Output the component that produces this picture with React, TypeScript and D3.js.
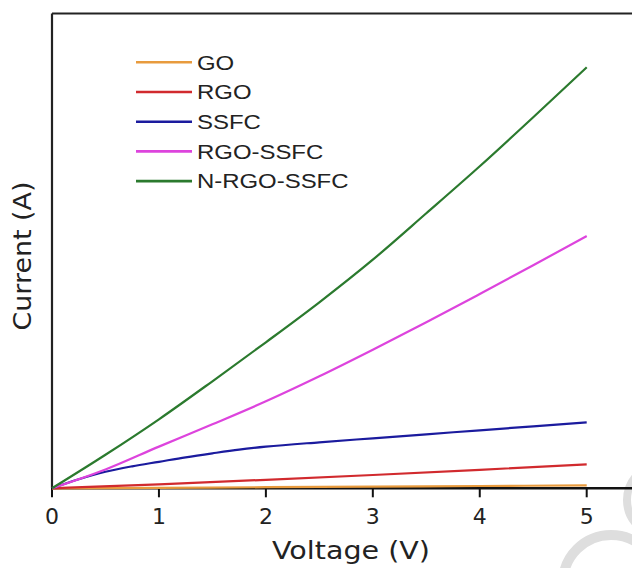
import React from "react";
import * as d3 from "d3";

// Voltage ticks
const xTicks = [0, 1, 2, 3, 4, 5];

// Series (relative current, 100 = top of frame)
const goV = [0, 1, 2, 3, 4, 5];
const goI = [0, 0.105, 0.23, 0.36, 0.48, 0.63];

const rgoV = [0, 1, 2, 3, 4, 5];
const rgoI = [0, 0.84, 1.79, 2.8, 3.9, 5.05];

const ssfcV = [0, 0.25, 0.5, 0.75, 1, 1.25, 1.5, 1.75, 2, 2.5, 3, 3.5, 4, 4.5, 5];
const ssfcI = [0, 1.9, 3.48, 4.63, 5.58, 6.53, 7.37, 8.15, 8.76, 9.69, 10.53, 11.37, 12.22, 13.06, 13.9];

const rgoSsfcV = [0, 0.5, 1, 1.5, 2, 2.5, 3, 3.5, 4, 4.5, 5];
const rgoSsfcI = [0, 3.96, 8.78, 13.48, 18.32, 23.59, 29.19, 34.96, 40.92, 46.97, 53.14];

const nRgoSsfcV = [0, 0.5, 1, 1.5, 2, 2.5, 3, 3.5, 4, 4.5, 5];
const nRgoSsfcI = [0, 7.06, 14.53, 22.54, 30.75, 39.17, 48.15, 57.92, 67.82, 78.14, 88.67];

const seriesNames = ["GO", "RGO", "SSFC", "RGO-SSFC", "N-RGO-SSFC"];
const seriesColors = ["#e89b3e", "#d12a2e", "#1b1b9e", "#dd44dd", "#2b7a2e"];

export default function App() {
  const W = 632;
  const H = 568;
  const left = 52;
  const top = 13.5;
  const bottom = 488.3;

  const x = d3.scaleLinear().domain([0, 5]).range([left, 586.7]);
  const y = d3.scaleLinear().domain([0, 100]).range([bottom, top]);

  const series = [
    { v: goV, i: goI },
    { v: rgoV, i: rgoI },
    { v: ssfcV, i: ssfcI },
    { v: rgoSsfcV, i: rgoSsfcI },
    { v: nRgoSsfcV, i: nRgoSsfcI },
  ];

  const line = d3
    .line<[number, number]>()
    .x((d) => x(d[0]))
    .y((d) => y(d[1]))
    .curve(d3.curveMonotoneX);

  const axisFont = "'DejaVu Sans', sans-serif";
  const legendFont = "'Liberation Sans', Arial, sans-serif";

  return (
    <svg
      width={W}
      height={H}
      style={{ position: "absolute", left: 0, top: 0, background: "#fff" }}
    >
      <rect x={0} y={0} width={W} height={H} fill="#fff" />
      {/* watermark arcs */}
      <circle cx={663} cy={500} r={36} fill="none" stroke="#dedede" strokeWidth={8} />
      <circle cx={611} cy={583} r={48} fill="none" stroke="#dedede" strokeWidth={10} />

      {/* frame */}
      <line x1={left} y1={top} x2={W + 5} y2={top} stroke="#222" strokeWidth={2} />
      <line x1={left} y1={top} x2={left} y2={bottom} stroke="#222" strokeWidth={2.2} />
      <line x1={left - 1} y1={bottom} x2={W + 5} y2={bottom} stroke="#111" strokeWidth={2.4} />

      {xTicks.map((t) => (
        <g key={t}>
          <line x1={x(t)} y1={bottom} x2={x(t)} y2={bottom + 9} stroke="#111" strokeWidth={2} />
          <text
            x={x(t)}
            y={524}
            textAnchor="middle"
            fontFamily={axisFont}
            fontSize={22}
            fill="#222"
          >
            {t}
          </text>
        </g>
      ))}

      <text
        x={351}
        y={559}
        textAnchor="middle"
        fontFamily={axisFont}
        fontSize={25}
        fill="#222"
        textLength={158}
        lengthAdjust="spacingAndGlyphs"
      >
        Voltage (V)
      </text>
      <text
        transform={`translate(31,256) rotate(-90)`}
        textAnchor="middle"
        fontFamily={axisFont}
        fontSize={25}
        fill="#222"
        textLength={149}
        lengthAdjust="spacingAndGlyphs"
      >
        Current (A)
      </text>

      {/* curves */}
      {series.map((s, k) => (
        <path
          key={seriesNames[k]}
          d={line(s.v.map((v, j) => [v, s.i[j]] as [number, number])) || ""}
          fill="none"
          stroke={seriesColors[k]}
          strokeWidth={2.2}
        />
      ))}

      {/* legend */}
      {seriesNames.map((n, k) => {
        const ly = 62.3 + k * 29.7;
        return (
          <g key={n}>
            <line x1={136} y1={ly} x2={192} y2={ly} stroke={seriesColors[k]} strokeWidth={2.6} />
            <text
              transform={`translate(197,${ly + 7.3}) scale(1.14,1)`}
              fontFamily={legendFont}
              fontSize={21}
              fill="#222"
            >
              {n}
            </text>
          </g>
        );
      })}
    </svg>
  );
}
